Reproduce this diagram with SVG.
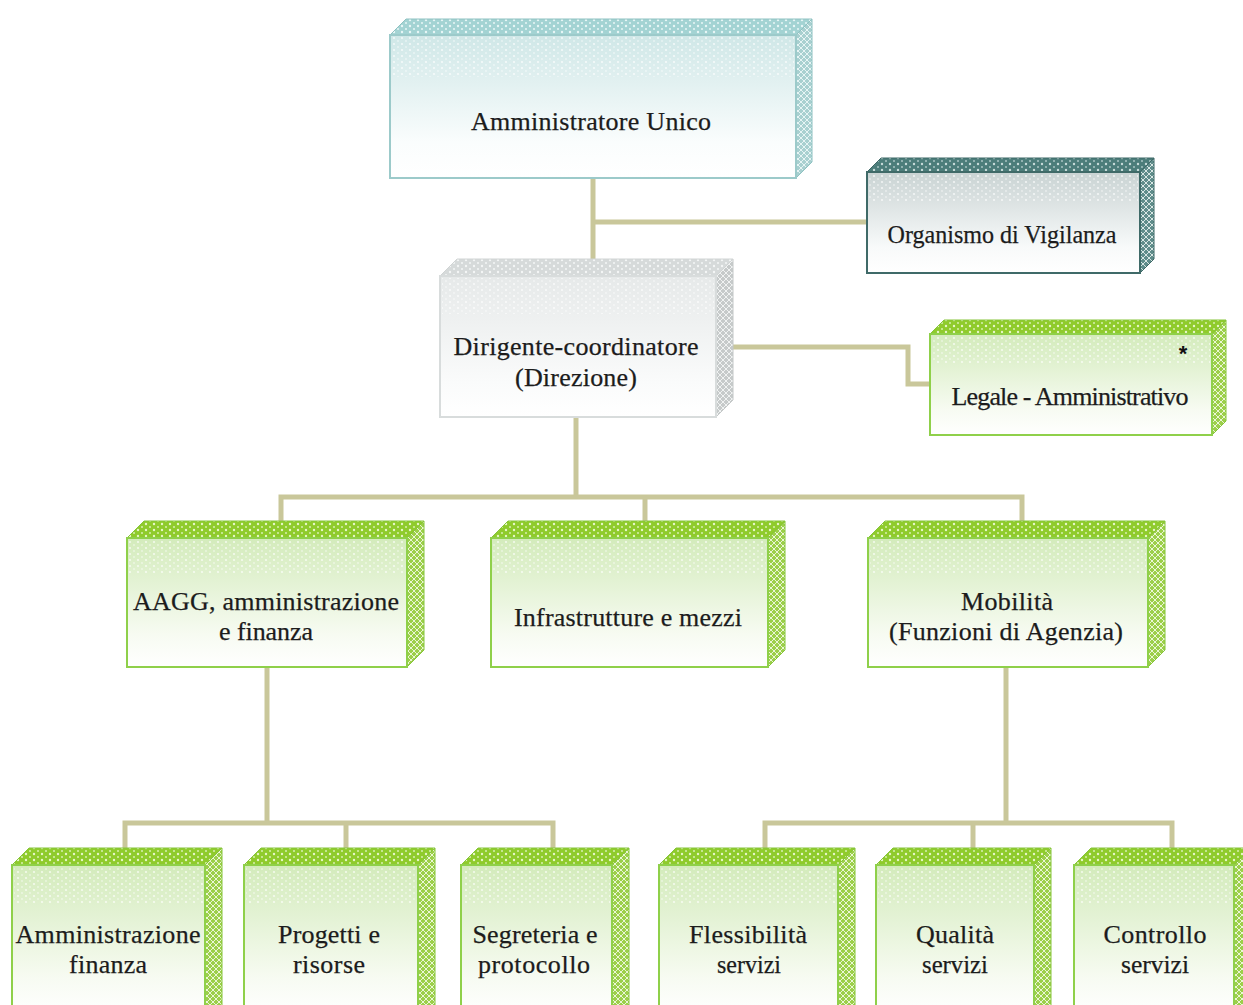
<svg xmlns="http://www.w3.org/2000/svg" width="1243" height="1005" viewBox="0 0 1243 1005">
<defs>
  <pattern id="pTopTeal" width="8" height="6" patternUnits="userSpaceOnUse"><rect width="8" height="6" fill="#a3d3d3"/><circle cx="2" cy="2" r="1.2" fill="#e8f6f6"/><circle cx="6" cy="5" r="1" fill="#e8f6f6"/></pattern>
  <pattern id="pSideTeal" width="6" height="6" patternUnits="userSpaceOnUse"><rect width="6" height="6" fill="#a8d0d0"/><path d="M0 3 L3 0 L6 3 L3 6 Z" fill="none" stroke="#e6f4f4" stroke-width="1"/></pattern>
  <pattern id="pTopDark" width="8" height="6" patternUnits="userSpaceOnUse"><rect width="8" height="6" fill="#4c7d7a"/><circle cx="2" cy="2" r="1.2" fill="#c8dcda"/><circle cx="6" cy="5" r="1" fill="#a8c4c2"/></pattern>
  <pattern id="pSideDark" width="6" height="6" patternUnits="userSpaceOnUse"><rect width="6" height="6" fill="#5f8c8a"/><path d="M0 3 L3 0 L6 3 L3 6 Z" fill="none" stroke="#d8e6e4" stroke-width="1"/></pattern>
  <pattern id="pTopGray" width="8" height="6" patternUnits="userSpaceOnUse"><rect width="8" height="6" fill="#d6dada"/><circle cx="2" cy="2" r="1.2" fill="#f4f6f6"/><circle cx="6" cy="5" r="1" fill="#f4f6f6"/></pattern>
  <pattern id="pSideGray" width="6" height="6" patternUnits="userSpaceOnUse"><rect width="6" height="6" fill="#c6caca"/><path d="M0 3 L3 0 L6 3 L3 6 Z" fill="none" stroke="#f0f2f2" stroke-width="1"/></pattern>
  <pattern id="pTopGreen" width="8" height="6" patternUnits="userSpaceOnUse"><rect width="8" height="6" fill="#8fcb2c"/><circle cx="2" cy="2" r="1.2" fill="#e6f6c8"/><circle cx="6" cy="5" r="1" fill="#d8f0b0"/></pattern>
  <pattern id="pSideGreen" width="6" height="6" patternUnits="userSpaceOnUse"><rect width="6" height="6" fill="#9ccf4a"/><path d="M0 3 L3 0 L6 3 L3 6 Z" fill="none" stroke="#eaf6d6" stroke-width="1"/></pattern>
  <pattern id="pDots" width="8" height="6" patternUnits="userSpaceOnUse"><circle cx="2" cy="2" r="1.1" fill="#ffffff" fill-opacity="0.7"/><circle cx="6" cy="5" r="0.9" fill="#ffffff" fill-opacity="0.5"/></pattern>
  <linearGradient id="gTeal" x1="0" y1="0" x2="0" y2="1"><stop offset="0" stop-color="#cfe7e7"/><stop offset="0.75" stop-color="#fafdfd"/><stop offset="1" stop-color="#ffffff"/></linearGradient>
  <linearGradient id="gDark" x1="0" y1="0" x2="0" y2="1"><stop offset="0" stop-color="#c9d3d3"/><stop offset="0.75" stop-color="#f8fafa"/><stop offset="1" stop-color="#ffffff"/></linearGradient>
  <linearGradient id="gGray" x1="0" y1="0" x2="0" y2="1"><stop offset="0" stop-color="#e6e9e9"/><stop offset="0.75" stop-color="#fafbfb"/><stop offset="1" stop-color="#ffffff"/></linearGradient>
  <linearGradient id="gGreen" x1="0" y1="0" x2="0" y2="1"><stop offset="0" stop-color="#d3ebbb"/><stop offset="0.75" stop-color="#f7fbf2"/><stop offset="1" stop-color="#ffffff"/></linearGradient>
</defs>
<style>
  .lbl { font-family: "Liberation Serif", "Times New Roman", serif; font-size: 26px; fill: #1c1c1c; stroke: #1c1c1c; stroke-width: 0.25; text-anchor: middle; }
  .star { font-family: "Liberation Sans", Arial, sans-serif; font-size: 22px; font-weight: bold; fill: #111; text-anchor: middle; }
  .conn { fill: none; stroke: #c9c79a; stroke-width: 5; stroke-linejoin: miter; stroke-linecap: butt; }
  .teal .top { fill: url(#pTopTeal); stroke: #8fc2c2; stroke-width: 1; }
  .teal .side { fill: url(#pSideTeal); stroke: #8fc2c2; stroke-width: 1; }
  .teal .front { fill: url(#gTeal); stroke: #9ccaca; stroke-width: 2; }
  .dark .top { fill: url(#pTopDark); stroke: #3d6866; stroke-width: 1; }
  .dark .side { fill: url(#pSideDark); stroke: #3d6866; stroke-width: 1; }
  .dark .front { fill: url(#gDark); stroke: #3f6a68; stroke-width: 2; }
  .gray .top { fill: url(#pTopGray); stroke: #d0d4d4; stroke-width: 1; }
  .gray .side { fill: url(#pSideGray); stroke: #c4c8c8; stroke-width: 1; }
  .gray .front { fill: url(#gGray); stroke: #d8dcdc; stroke-width: 2; }
  .green .top { fill: url(#pTopGreen); stroke: #86c53a; stroke-width: 1; }
  .green .side { fill: url(#pSideGreen); stroke: #86c53a; stroke-width: 1; }
  .green .front { fill: url(#gGreen); stroke: #8fd04a; stroke-width: 2; }
  .dots { fill: url(#pDots); }
</style>
<rect width="1243" height="1005" fill="#ffffff"/>

<g id="connectors">
  <path class="conn" d="M593 178 V259"/>
  <path class="conn" d="M593 222 H867"/>
  <path class="conn" d="M716 347 H908 V384 H930"/>
  <path class="conn" d="M576 417 V497"/>
  <path class="conn" d="M281 521 V497 H1022 V521"/>
  <path class="conn" d="M645 497 V521"/>
  <path class="conn" d="M267 667 V823"/>
  <path class="conn" d="M125 848 V823 H553 V848"/>
  <path class="conn" d="M346 823 V848"/>
  <path class="conn" d="M1006 667 V823"/>
  <path class="conn" d="M765 848 V823 H1172 V848"/>
  <path class="conn" d="M973 823 V848"/>
</g>

<g id="amministratore-unico" class="teal">
  <polygon class="side" points="796,35 812,19 812,162 796,178"/>
  <polygon class="top" points="390,35 406,19 812,19 796,35"/>
  <rect class="front" x="390" y="35" width="406" height="143"/>
  <rect class="dots" x="392" y="37" width="402" height="40"/>
  <text class="lbl" x="591" y="130" textLength="240" lengthAdjust="spacing">Amministratore Unico</text>
</g>

<g id="organismo-vigilanza" class="dark">
  <polygon class="side" points="1140,172 1154,158 1154,259 1140,273"/>
  <polygon class="top" points="867,172 881,158 1154,158 1140,172"/>
  <rect class="front" x="867" y="172" width="273" height="101"/>
  <rect class="dots" x="869" y="174" width="269" height="28"/>
  <text class="lbl" x="1002" y="243" textLength="229" lengthAdjust="spacingAndGlyphs">Organismo di Vigilanza</text>
</g>

<g id="dirigente-coordinatore" class="gray">
  <polygon class="side" points="716,276 733,259 733,400 716,417"/>
  <polygon class="top" points="440,276 457,259 733,259 716,276"/>
  <rect class="front" x="440" y="276" width="276" height="141"/>
  <rect class="dots" x="442" y="278" width="272" height="36"/>
  <text class="lbl" x="576" y="355" textLength="245" lengthAdjust="spacing">Dirigente-coordinatore</text>
  <text class="lbl" x="576" y="386" textLength="122" lengthAdjust="spacing">(Direzione)</text>
</g>

<g id="legale-amministrativo" class="green">
  <polygon class="side" points="1212,334 1226,320 1226,421 1212,435"/>
  <polygon class="top" points="930,334 944,320 1226,320 1212,334"/>
  <rect class="front" x="930" y="334" width="282" height="101"/>
  <rect class="dots" x="932" y="336" width="278" height="28"/>
  <text class="star" x="1183" y="361">*</text>
  <text class="lbl" x="1070" y="405" textLength="237" lengthAdjust="spacing">Legale - Amministrativo</text>
</g>

<g id="aagg" class="green">
  <polygon class="side" points="407,538 424,521 424,650 407,667"/>
  <polygon class="top" points="127,538 144,521 424,521 407,538"/>
  <rect class="front" x="127" y="538" width="280" height="129"/>
  <rect class="dots" x="129" y="540" width="276" height="34"/>
  <text class="lbl" x="266" y="610" textLength="266" lengthAdjust="spacing">AAGG, amministrazione</text>
  <text class="lbl" x="266" y="640" textLength="94" lengthAdjust="spacing">e finanza</text>
</g>

<g id="infrastrutture" class="green">
  <polygon class="side" points="768,538 785,521 785,650 768,667"/>
  <polygon class="top" points="491,538 508,521 785,521 768,538"/>
  <rect class="front" x="491" y="538" width="277" height="129"/>
  <rect class="dots" x="493" y="540" width="273" height="34"/>
  <text class="lbl" x="628" y="626" textLength="228" lengthAdjust="spacing">Infrastrutture e mezzi</text>
</g>

<g id="mobilita" class="green">
  <polygon class="side" points="1148,538 1165,521 1165,650 1148,667"/>
  <polygon class="top" points="868,538 885,521 1165,521 1148,538"/>
  <rect class="front" x="868" y="538" width="280" height="129"/>
  <rect class="dots" x="870" y="540" width="276" height="34"/>
  <text class="lbl" x="1007" y="610" textLength="92" lengthAdjust="spacing">Mobilità</text>
  <text class="lbl" x="1006" y="640" textLength="234" lengthAdjust="spacing">(Funzioni di Agenzia)</text>
</g>

<g id="amministrazione-finanza" class="green">
  <polygon class="side" points="205,865 222,848 222,1010 205,1010"/>
  <polygon class="top" points="12,865 29,848 222,848 205,865"/>
  <rect class="front" x="12" y="865" width="193" height="150"/>
  <rect class="dots" x="14" y="867" width="189" height="36"/>
  <text class="lbl" x="108" y="943" textLength="185" lengthAdjust="spacing">Amministrazione</text>
  <text class="lbl" x="108" y="973" textLength="78" lengthAdjust="spacing">finanza</text>
</g>

<g id="progetti-risorse" class="green">
  <polygon class="side" points="418,865 435,848 435,1010 418,1010"/>
  <polygon class="top" points="244,865 261,848 435,848 418,865"/>
  <rect class="front" x="244" y="865" width="174" height="150"/>
  <rect class="dots" x="246" y="867" width="170" height="36"/>
  <text class="lbl" x="329" y="943" textLength="102" lengthAdjust="spacing">Progetti e</text>
  <text class="lbl" x="329" y="973" textLength="72" lengthAdjust="spacing">risorse</text>
</g>

<g id="segreteria-protocollo" class="green">
  <polygon class="side" points="612,865 629,848 629,1010 612,1010"/>
  <polygon class="top" points="461,865 478,848 629,848 612,865"/>
  <rect class="front" x="461" y="865" width="151" height="150"/>
  <rect class="dots" x="463" y="867" width="147" height="36"/>
  <text class="lbl" x="535" y="943" textLength="125" lengthAdjust="spacing">Segreteria e</text>
  <text class="lbl" x="534" y="973" textLength="112" lengthAdjust="spacing">protocollo</text>
</g>

<g id="flessibilita-servizi" class="green">
  <polygon class="side" points="838,865 855,848 855,1010 838,1010"/>
  <polygon class="top" points="659,865 676,848 855,848 838,865"/>
  <rect class="front" x="659" y="865" width="179" height="150"/>
  <rect class="dots" x="661" y="867" width="175" height="36"/>
  <text class="lbl" x="748" y="943" textLength="118" lengthAdjust="spacing">Flessibilità</text>
  <text class="lbl" x="749" y="973" textLength="64" lengthAdjust="spacingAndGlyphs">servizi</text>
</g>

<g id="qualita-servizi" class="green">
  <polygon class="side" points="1034,865 1051,848 1051,1010 1034,1010"/>
  <polygon class="top" points="876,865 893,848 1051,848 1034,865"/>
  <rect class="front" x="876" y="865" width="158" height="150"/>
  <rect class="dots" x="878" y="867" width="154" height="36"/>
  <text class="lbl" x="955" y="943" textLength="78" lengthAdjust="spacing">Qualità</text>
  <text class="lbl" x="955" y="973" textLength="66" lengthAdjust="spacingAndGlyphs">servizi</text>
</g>

<g id="controllo-servizi" class="green">
  <polygon class="side" points="1234,865 1251,848 1251,1010 1234,1010"/>
  <polygon class="top" points="1074,865 1091,848 1251,848 1234,865"/>
  <rect class="front" x="1074" y="865" width="160" height="150"/>
  <rect class="dots" x="1076" y="867" width="156" height="36"/>
  <text class="lbl" x="1155" y="943" textLength="103" lengthAdjust="spacing">Controllo</text>
  <text class="lbl" x="1155" y="973" textLength="68" lengthAdjust="spacingAndGlyphs">servizi</text>
</g>
</svg>
